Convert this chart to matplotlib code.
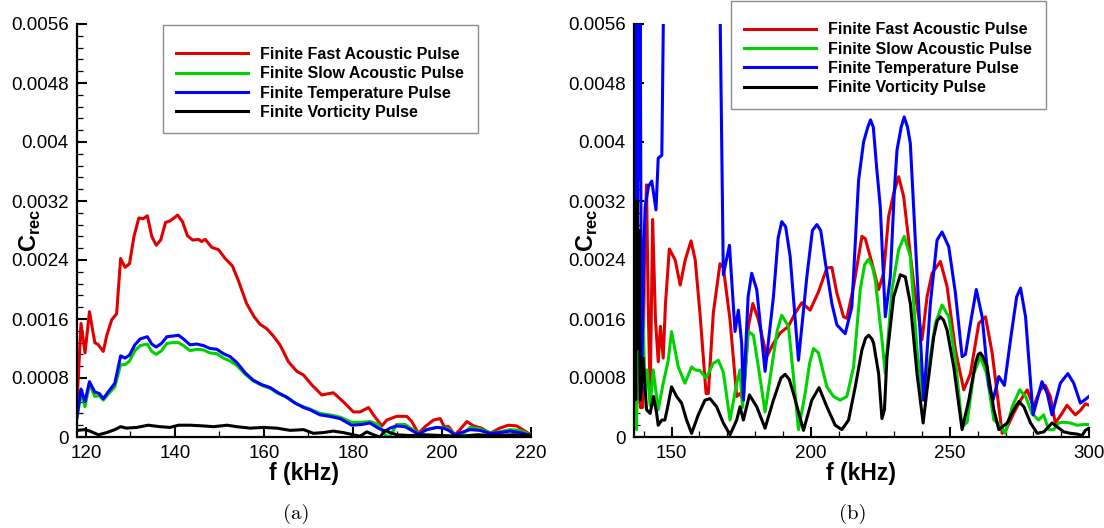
import matplotlib
matplotlib.use("Agg")
import matplotlib.pyplot as plt
from matplotlib.ticker import MultipleLocator
from matplotlib.font_manager import FontProperties

plt.rcParams['font.family'] = ['Liberation Sans', 'DejaVu Sans']
plt.rcParams['mathtext.fontset'] = 'custom'
plt.rcParams['mathtext.rm'] = 'Liberation Sans'
plt.rcParams['mathtext.bf'] = 'Liberation Sans:bold'

# ---------------- data : panel (a) ----------------
fa_fast = [118, 118.9, 119.8, 120.8, 122, 122.8, 123.9, 124.7, 125.8, 126.9,
           127.8, 128.8, 129.8, 130.8, 131.9, 132.9, 133.8, 134.8, 135.8, 136.8,
           137.9, 138.9, 139.8, 140.6, 141.7, 142.8, 144, 145.3, 146, 146.8,
           148.3, 149.8, 151.3, 152.9, 154.2, 156.1, 157.8, 159.1, 160.6, 162.1,
           163.6, 165.5, 167.4, 168.9, 170.7, 173, 175.6, 177.8, 180.1, 181.6,
           183.5, 184.6, 186.5, 187.6, 189.8, 192.1, 193.2, 194.7, 196.2, 198.1,
           199.6, 200.5, 201.5, 202.9, 203.9, 205.6, 207.1, 208.9, 210.8, 213,
           214.9, 216.8, 219.4, 220]
ca_fast = [0.00046, 0.00154, 0.00114, 0.0017, 0.00128, 0.00125, 0.00116, 0.00138, 0.00159, 0.00167,
           0.00242, 0.0023, 0.00235, 0.00272, 0.00297, 0.00296, 0.003, 0.00272, 0.0026, 0.00267,
           0.00291, 0.00293, 0.00297, 0.00301, 0.00292, 0.00273, 0.00267, 0.00268, 0.00265, 0.00268,
           0.00257, 0.00254, 0.00242, 0.00232, 0.00213, 0.00181, 0.00163, 0.00153, 0.00147, 0.00137,
           0.00125, 0.00102, 0.00089, 0.00084, 0.00071, 0.00057, 0.0006, 0.00048, 0.00034, 0.00034,
           0.0004, 0.0003, 0.00015, 0.00023, 0.00028, 0.00028, 0.00021, 0.00005, 0.00014, 0.00023,
           0.00025, 0.00014, 0.00014, 0.00003, 0.00009, 0.00021, 0.00015, 0.00012, 0.00005, 0.00012,
           0.00016, 0.00015, 0.00005, 0.00004]

fa_ts = [118, 118.9, 119.8, 120.8, 122, 123, 123.9, 125, 126.5, 127.8,
         128.8, 129.8, 131, 132.2, 133.8, 134.8, 135.8, 137, 138.2, 139.7,
         140.8, 141.9, 143.4, 144.9, 146.4, 147.9, 149.4, 150.9, 152.4, 153.9,
         155.8, 157.6, 159.5, 161.4, 163.2, 165.1, 167, 168.9, 170.3, 172.6,
         174.8, 177.1, 179.7, 182, 183.8, 185.7, 187.2, 188.3, 189.8, 191.7,
         194.7, 196.6, 198.8, 200.3, 201.5, 202.9, 204.8, 206.3, 208.5, 210.8,
         213, 215.3, 217.5, 219.4, 220]
ca_temp = [0.00028, 0.00065, 0.00048, 0.00075, 0.00061, 0.00059, 0.00052, 0.00061, 0.00073, 0.0011,
           0.00107, 0.00111, 0.00125, 0.00133, 0.00136, 0.00126, 0.00122, 0.00127, 0.00136, 0.00137,
           0.00138, 0.00133, 0.00125, 0.00126, 0.00124, 0.0012, 0.00119, 0.00113, 0.00109, 0.00101,
           0.00087, 0.00077, 0.00071, 0.00067, 0.0006, 0.00054, 0.00046, 0.0004, 0.00037, 0.0003,
           0.00028, 0.00025, 0.00016, 0.00017, 0.00019, 0.00012, 0.00008, 0.00012, 0.00015, 0.00014,
           0.00004, 0.0001, 0.00013, 0.00012, 0.00009, 0.00003, 0.00007, 0.0001, 0.00009, 0.00005,
           0.00006, 0.00008, 0.00006, 0.00003, 0.00003]
ca_slow = [0.00025, 0.0006, 0.00041, 0.00072, 0.00055, 0.00056, 0.0005, 0.00058, 0.00068, 0.00098,
           0.00098, 0.00103, 0.00117, 0.00124, 0.00126, 0.00116, 0.00112, 0.00117, 0.00127, 0.00128,
           0.00128, 0.00124, 0.00117, 0.00119, 0.00118, 0.00114, 0.00113, 0.00107, 0.00103, 0.00097,
           0.00085, 0.00076, 0.0007, 0.00066, 0.00059, 0.00054, 0.00046, 0.00041, 0.00038, 0.00032,
           0.0003, 0.00027, 0.0002, 0.0002, 0.00021, 0.00017, 0.00003, 0.0, 0.00017, 0.00017,
           0.00005, 0.0001, 0.00013, 0.00013, 0.00011, 0.00003, 0.00005, 0.00013, 0.00011, 0.00006,
           0.00007, 0.0001, 0.00009, 0.00004, 0.00004]

fa_vort = [118, 119.8, 120.9, 122.8, 124.7, 126.5, 127.8, 129.1, 131.4, 134,
           136.6, 138.9, 140.8, 143.4, 146.4, 148.7, 151.7, 153.9, 156.9, 159.9,
           162.9, 165.9, 168.9, 171.1, 173.3, 175.6, 177.8, 180.1, 181.6, 183.1,
           184.6, 186.1, 187.2, 188.3, 189.8, 192.8, 196, 200, 204, 208,
           212, 216, 220]
ca_vort = [0.00009, 0.0001, 0.00008, 0.00003, 0.00006, 0.0001, 0.00014, 0.00012, 0.00013, 0.00016,
           0.00014, 0.00013, 0.00016, 0.00016, 0.00015, 0.00014, 0.00016, 0.00014, 0.00012, 0.00013,
           0.00012, 0.00009, 0.0001, 0.00005, 0.00006, 0.00008, 0.00006, 0.00003, 0.00001, 0.00007,
           0.00003, 0.0, 0.00009, 0.00006, 0.00003, 0.00002, 0.00003, 0.00002, 0.00001, 0.00003,
           0.00002, 0.00003, 0.00002]

# ---------------- data : panel (b) ----------------
fb_fast = [136.5, 137.0, 137.5, 138.0, 138.8, 139.6, 140.3, 141.0, 141.6, 142.3,
           143.2, 144.2, 145.2, 146.0, 147.0, 147.8, 149.2, 151.3, 153.1, 154.9,
           157.0, 158.5, 160.2, 162.4, 163.2, 165.0, 167.4, 168.6, 171.0, 173.4,
           174.6, 175.8, 177.6, 179.2, 181.2, 184.2, 186.6, 189.0, 192.0, 194.4,
           196.8, 199.8, 202.8, 205.8, 207.6, 209.4, 211.8, 213.0, 215.4, 218.4,
           219.6, 222.0, 224.4, 226.2, 228.0, 229.8, 231.6, 233.4, 235.2, 237.0,
           240.0, 241.8, 243.6, 246.6, 249.0, 252.0, 255.0, 257.4, 260.4, 262.8,
           265.2, 267.0, 268.8, 270.2, 272.9, 275.4, 277.8, 280.0, 282.5, 284.3,
           286.1, 287.9, 290.3, 292.1, 295.1, 296.9, 298.7, 300]
cb_fast = [0.0009, 0.0018, 0.0012, 0.0018, 0.0004, 0.0004, 0.0025, 0.00342, 0.0018, 0.00055,
           0.00295, 0.0016, 0.00102, 0.0015, 0.00107, 0.0018, 0.00255, 0.0024, 0.00206, 0.0024,
           0.00266, 0.0024, 0.00168, 0.00059, 0.00059, 0.00168, 0.00235, 0.0023, 0.00159, 0.00055,
           0.00059, 0.0005, 0.0015, 0.00181, 0.00159, 0.00109, 0.00127, 0.00141, 0.0015, 0.00168,
           0.00182, 0.00172, 0.00197, 0.00229, 0.0023, 0.00195, 0.00163, 0.00161, 0.00204, 0.00272,
           0.00269, 0.00236, 0.002, 0.00222, 0.00299, 0.0033, 0.00353, 0.00326, 0.00267, 0.00208,
           0.00132, 0.0019, 0.00222, 0.00238, 0.00204, 0.00118, 0.00064, 0.00086, 0.00154, 0.00163,
           0.00114, 0.00059, 0.00005, 0.0001, 0.00032, 0.0005, 0.00064, 0.00041, 0.00064, 0.0007,
           0.00055, 0.00019, 0.00032, 0.00043, 0.0003, 0.00036, 0.00045, 0.00043]

fb_slow = [136.5, 136.7, 137.0, 137.4, 137.8, 138.4, 139.0, 139.6, 140.4, 141.2,
           142.3, 143.4, 145.2, 147.0, 148.8, 150.0, 152.4, 154.8, 157.2, 158.4,
           160.2, 162.4, 165.0, 166.8, 168.6, 171.0, 173.4, 174.6, 175.5, 177.6,
           179.4, 181.2, 183.6, 186.0, 188.0, 189.6, 192.0, 193.8, 195.6, 198.0,
           199.6, 201.0, 202.8, 205.8, 208.2, 210.6, 213.0, 215.4, 217.8, 219.4,
           220.8, 222.2, 223.2, 225.6, 226.8, 229.2, 231.6, 233.6, 235.8, 238.2,
           240.4, 242.4, 244.8, 247.2, 249.6, 252.0, 254.4, 256.2, 258.6, 261.0,
           263.2, 265.8, 267.6, 269.9, 272.4, 275.1, 277.2, 279.5, 281.9, 283.7,
           285.5, 287.3, 289.1, 290.9, 293.3, 295.7, 298.7, 300]
cb_slow = [0.0025, 0.0037, 0.002, 0.0001, 0.0012, 0.0019, 0.0006, 0.0019, 0.00068, 0.00091,
           0.00043, 0.00091, 0.00037, 0.00073, 0.00104, 0.00143, 0.00095, 0.00073, 0.00095, 0.00091,
           0.0009, 0.0008, 0.001, 0.00104, 0.00088, 0.00023, 0.00073, 0.00091, 0.0004, 0.00143,
           0.00138, 0.00095, 0.00034, 0.00095, 0.00145, 0.00165, 0.0015, 0.00082, 0.0001, 0.00059,
           0.001, 0.0012, 0.00114, 0.00068, 0.00055, 0.0005, 0.00055, 0.00095, 0.002, 0.00234,
           0.00241, 0.0023, 0.00213, 0.00132, 0.00086, 0.002, 0.00254, 0.00272, 0.00245, 0.00118,
           0.0005, 0.00095, 0.00154, 0.00179, 0.00163, 0.00104, 0.00014, 0.0002, 0.00086, 0.00109,
           0.00086, 0.00023, 0.00018, 0.00005, 0.00041, 0.00064, 0.00055, 0.00032, 0.00023, 0.0003,
           0.0001, 0.0001, 0.00019, 0.0002, 0.00019, 0.00016, 0.00017, 0.00017]

fb_temp = [136.5, 136.75, 137.0, 137.25, 137.5, 137.75, 138.0, 138.3, 138.7, 139.2,
           140.0, 140.5, 141.7, 142.9, 144.4, 145.2, 146.5, 147.3, 157.0, 167.2,
           168.6, 170.8, 172.8, 174.0, 175.2, 175.8, 177.5, 178.8, 180.6, 183.6,
           186.6, 188.3, 189.6, 191.0, 192.6, 195.6, 198.6, 200.6, 202.2, 203.6,
           205.2, 207.6, 209.4, 212.4, 214.8, 217.2, 219.0, 220.5, 221.5, 222.5,
           223.7, 225.0, 226.8, 228.6, 230.0, 231.0, 232.5, 233.6, 234.8, 235.8,
           237.0, 238.2, 240.6, 243.0, 245.4, 247.2, 249.6, 252.0, 254.4, 255.6,
           257.4, 259.5, 261.6, 264.0, 265.5, 267.6, 269.6, 271.8, 274.0, 275.4,
           277.2, 279.9, 283.1, 285.0, 286.7, 289.7, 292.4, 294.5, 296.9, 298.7,
           300]
cb_temp = [0.0065, 0.0031, 0.0065, 0.0033, 0.0065, 0.0031, 0.0065, 0.0035, 0.0062, 0.0006,
           0.0025, 0.00312, 0.0034, 0.00347, 0.00308, 0.00378, 0.00382, 0.0065, 0.012, 0.0065,
           0.0022, 0.0026, 0.00143, 0.00172, 0.00127, 0.0005, 0.0019, 0.00222, 0.002, 0.00089,
           0.0019, 0.0027, 0.00292, 0.00285, 0.00245, 0.00104, 0.00217, 0.0028, 0.00288, 0.0028,
           0.00238, 0.00181, 0.00152, 0.0014, 0.00177, 0.00348, 0.0040, 0.0042, 0.0043, 0.0042,
           0.00365, 0.00312, 0.00163, 0.00217, 0.0033, 0.00389, 0.0042, 0.00434, 0.0042, 0.00398,
           0.0031, 0.00222, 0.0005, 0.00181, 0.00267, 0.00278, 0.00258, 0.00195, 0.00109, 0.00112,
           0.00154, 0.002, 0.00163, 0.0007, 0.0005, 0.00082, 0.0007, 0.00132, 0.0019, 0.00202,
           0.00163, 0.0003, 0.00075, 0.00059, 0.0003, 0.00073, 0.00086, 0.00073, 0.00046, 0.00051,
           0.00055]

fb_vort = [136.5, 136.8, 137.1, 137.4, 137.7, 138.0, 138.3, 138.7, 139.8, 141.0,
           142.3, 143.5, 144.6, 145.2, 146.5, 147.6, 148.5, 150.0, 151.8, 153.6,
           155.4, 157.2, 159.6, 162.0, 163.8, 166.2, 168.6, 171.0, 173.4, 174.6,
           175.8, 178.0, 180.6, 183.6, 186.6, 189.3, 190.8, 192.3, 193.8, 197.4,
           200.4, 203.0, 205.8, 208.8, 211.2, 213.6, 216.0, 218.4, 219.7, 220.8,
           222.0, 222.6, 224.4, 225.6, 226.5, 227.4, 229.8, 232.2, 234.0, 235.8,
           238.2, 240.4, 241.8, 244.2, 245.5, 246.6, 247.8, 249.0, 251.4, 254.4,
           256.8, 259.2, 260.2, 261.0, 262.0, 263.4, 265.8, 267.6, 270.6, 272.9,
           274.8, 276.6, 279.0, 281.4, 283.8, 286.7, 288.5, 290.9, 293.3, 295.7,
           297.5, 298.7, 300]
cb_vort = [0.0025, 0.0032, 0.0005, 0.0031, 0.0032, 0.0012, 0.0028, 0.0005, 0.00107, 0.00037,
           0.00032, 0.00055, 0.00033, 0.00016, 0.00023, 0.00023, 0.00039, 0.00068, 0.00055, 0.00046,
           0.00023, 0.00005, 0.0003, 0.0005, 0.00052, 0.00041, 0.00019, 0.00003, 0.00023, 0.00041,
           0.00023, 0.00057, 0.00041, 0.00012, 0.0005, 0.0008, 0.00085, 0.00078, 0.00059, 0.00009,
           0.0005, 0.00067, 0.00041, 0.00016, 0.0001, 0.00023, 0.00068, 0.00118, 0.00134, 0.00138,
           0.00133, 0.00127, 0.00086, 0.00025, 0.00037, 0.00109, 0.0019, 0.0022, 0.00217, 0.00181,
           0.00086, 0.00019, 0.00064, 0.00136, 0.00158, 0.00163, 0.00158, 0.00145, 0.00095, 0.0001,
           0.0005, 0.001, 0.00112, 0.00114, 0.00108, 0.00095, 0.00037, 0.0001, 0.00019, 0.00037,
           0.00048, 0.00041, 0.00019, 0.00005, 0.00007, 0.00019, 0.00014, 0.00007, 0.00005, 0.00004,
           0.00002, 0.00009, 0.00012]

series_labels = ['Finite Fast Acoustic Pulse', 'Finite Slow Acoustic Pulse',
                 'Finite Temperature Pulse', 'Finite Vorticity Pulse']
series_colors = ['#e00000', '#00d200', '#0000ff', '#000000']

y_ticks = [0, 0.0008, 0.0016, 0.0024, 0.0032, 0.004, 0.0048, 0.0056]
y_tick_labels = ['0', '0.0008', '0.0016', '0.0024', '0.0032', '0.004', '0.0048', '0.0056']
xa_ticks = [120, 140, 160, 180, 200, 220]
xb_ticks = [150, 200, 250, 300]

# ---------------- figure ----------------
W, H = 1104, 528
fig = plt.figure(figsize=(W / 100, H / 100), dpi=100)

def px_rect(x0, y0, x1, y1):
    return [x0 / W, 1 - y1 / H, (x1 - x0) / W, (y1 - y0) / H]

ax1 = fig.add_axes(px_rect(77, 24, 531, 437))
ax2 = fig.add_axes(px_rect(634, 24, 1089, 437))

LW = 2.2
for ax, data in [(ax1, [(fa_fast, ca_fast), (fa_ts, ca_slow), (fa_ts, ca_temp), (fa_vort, ca_vort)]),
                 (ax2, [(fb_fast, cb_fast), (fb_slow, cb_slow), (fb_temp, cb_temp), (fb_vort, cb_vort)])]:
    for (xx, yy), lab, col in zip(data, series_labels, series_colors):
        ax.plot(xx, yy, color=col, lw=LW, label=lab, solid_joinstyle='round')

for ax, xt, xlim in [(ax1, xa_ticks, (118, 220)), (ax2, xb_ticks, (136.5, 300))]:
    ax.set_xlim(*xlim)
    ax.set_ylim(0, 0.0056)
    ax.set_yticks(y_ticks)
    ax.set_yticklabels(y_tick_labels)
    ax.set_xticks(xt)
    ax.set_xticklabels([str(v) for v in xt])
    ax.xaxis.set_minor_locator(MultipleLocator(10))
    ax.yaxis.set_minor_locator(MultipleLocator(0.00016))
    for s in ['top', 'right']:
        ax.spines[s].set_visible(False)
    for s in ['left', 'bottom']:
        ax.spines[s].set_linewidth(1.6)
    ax.tick_params(which='major', direction='in', length=7, width=1.5, pad=6,
                   labelsize=13.5, top=False, right=False)
    ax.tick_params(which='minor', direction='in', length=4, width=0.9,
                   top=False, right=False)
    ax.set_xlabel('f (kHz)', fontsize=16.5, fontweight='bold', labelpad=0)
    ax.set_ylabel(r'$\mathbf{C}_{\mathbf{rec}}$', fontsize=17)
    ax.yaxis.set_label_coords(-0.074, 0.5)

leg_prop = FontProperties(family='Liberation Sans', weight='bold', size=11.5)
for ax, (lx, ly) in [(ax1, (162.7, 25)), (ax2, (730.7, 0.5))]:
    leg = ax.legend(loc='upper left', bbox_to_anchor=(lx / W, 1 - ly / H),
                    bbox_transform=fig.transFigure, borderaxespad=0,
                    prop=leg_prop, handlelength=4.5, handletextpad=0.75,
                    labelspacing=0.27, borderpad=0.85, frameon=True,
                    fancybox=False, edgecolor='#8c8c8c', framealpha=1,
                    title=' ', title_fontsize=2.5)
    leg.get_frame().set_linewidth(1.0)

fig.text(296 / W, 1 - 514 / H, '(a)', family='cmr10', fontsize=15, ha='center', va='center')
fig.text(853 / W, 1 - 514 / H, '(b)', family='cmr10', fontsize=15, ha='center', va='center')

fig.savefig('out.png', dpi=100)
